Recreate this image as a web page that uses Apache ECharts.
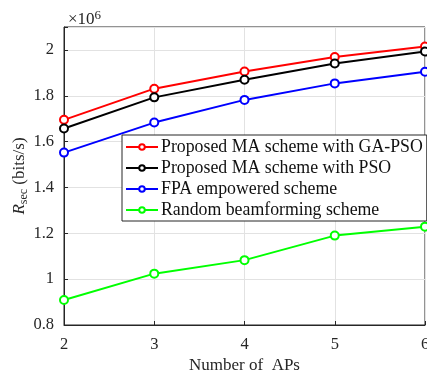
<!DOCTYPE html>
<html><head><meta charset="utf-8">
<script src="https://cdn.jsdelivr.net/npm/echarts@6/dist/echarts.min.js"></script>
<style>html,body{margin:0;padding:0;background:#fff}#c{width:427px;height:379px}</style>
</head><body><div id="c"></div>
<script>
var numAPs = [2, 3, 4, 5, 6];
var gaPso = [1.695, 1.831, 1.906, 1.969, 2.015];
var pso = [1.657, 1.793, 1.870, 1.941, 1.993];
var fpa = [1.552, 1.683, 1.782, 1.854, 1.905];
var randomBf = [0.909, 1.024, 1.083, 1.190, 1.229];
var seriesNames = ['Proposed MA scheme with GA-PSO', 'Proposed MA scheme with PSO', 'FPA empowered scheme', 'Random beamforming scheme'];
var yTicks = [0.8, 1, 1.2, 1.4, 1.6, 1.8, 2];

var font = '"Liberation Serif", "DejaVu Serif", serif';
function pairs(v){ return numAPs.map(function(x,i){ return [x, v[i]]; }); }
function mk(name, data, color){
  return {name:name, type:'line', data:pairs(data), symbol:'circle', symbolSize:8,
    lineStyle:{color:color, width:2}, itemStyle:{color:'#fff', borderColor:color, borderWidth:2},
    emphasis:{disabled:true}};
}
var chart = echarts.init(document.getElementById('c'));
chart.setOption({
  animation:false,
  title:{text:'×10{s|6}', left:63, top:4, textStyle:{fontFamily:font, fontSize:17, fontWeight:'normal', color:'#262626',
    rich:{s:{fontFamily:font, fontSize:13, verticalAlign:'top', padding:[0,0,9,0], color:'#262626'}}}},
  grid:{left:64, right:2, top:27, bottom:54, show:true, borderColor:'#262626', borderWidth:1, backgroundColor:'transparent',
    outerBoundsMode:'none', containLabel:false},
  legend:{orient:'vertical', left:122, top:135, data:seriesNames, backgroundColor:'#fff', borderColor:'#262626', borderWidth:1,
    padding:[3,4,2,3], itemGap:3, itemWidth:32, itemHeight:7, textStyle:{fontFamily:font, fontSize:17.8, color:'#111', padding:[0,0,0,-2]}},
  xAxis:{type:'value', min:2, max:6, interval:1, name:'Number of  APs', nameLocation:'middle', nameGap:32, nameMoveOverlap:false,
    nameTextStyle:{fontFamily:font, fontSize:17, color:'#262626'},
    axisLine:{lineStyle:{color:'#262626'}}, axisTick:{inside:true, length:4, lineStyle:{color:'#262626'}},
    axisLabel:{fontFamily:font, fontSize:16.5, color:'#262626', margin:11},
    splitLine:{show:true, lineStyle:{color:'#e2e2e2'}}},
  yAxis:{type:'value', min:0.8, max:2.1, interval:0.2, name:'{i|R}{s|sec} (bits/s)', nameLocation:'middle', nameGap:34, nameMoveOverlap:false,
    nameTextStyle:{fontFamily:font, fontSize:17, color:'#262626',
      rich:{i:{fontFamily:font, fontSize:17, fontStyle:'italic', color:'#262626'},
            s:{fontFamily:font, fontSize:12, color:'#262626', verticalAlign:'bottom', padding:[8,0,0,0]}}},
    axisLine:{show:true, lineStyle:{color:'#262626'}}, axisTick:{inside:true, length:4, lineStyle:{color:'#262626'}},
    axisLabel:{fontFamily:font, fontSize:16.5, color:'#262626', margin:10,
      formatter:function(v){ return yTicks.some(function(t){return Math.abs(t-v)<1e-6;}) ? String(+v.toFixed(1)) : ''; }},
    splitLine:{show:true, lineStyle:{color:'#e2e2e2'}}},
  series:[mk(seriesNames[0], gaPso, '#ff0000'), mk(seriesNames[1], pso, '#000000'),
          mk(seriesNames[2], fpa, '#0000ff'), mk(seriesNames[3], randomBf, '#00ff00')]
});
</script></body></html>
